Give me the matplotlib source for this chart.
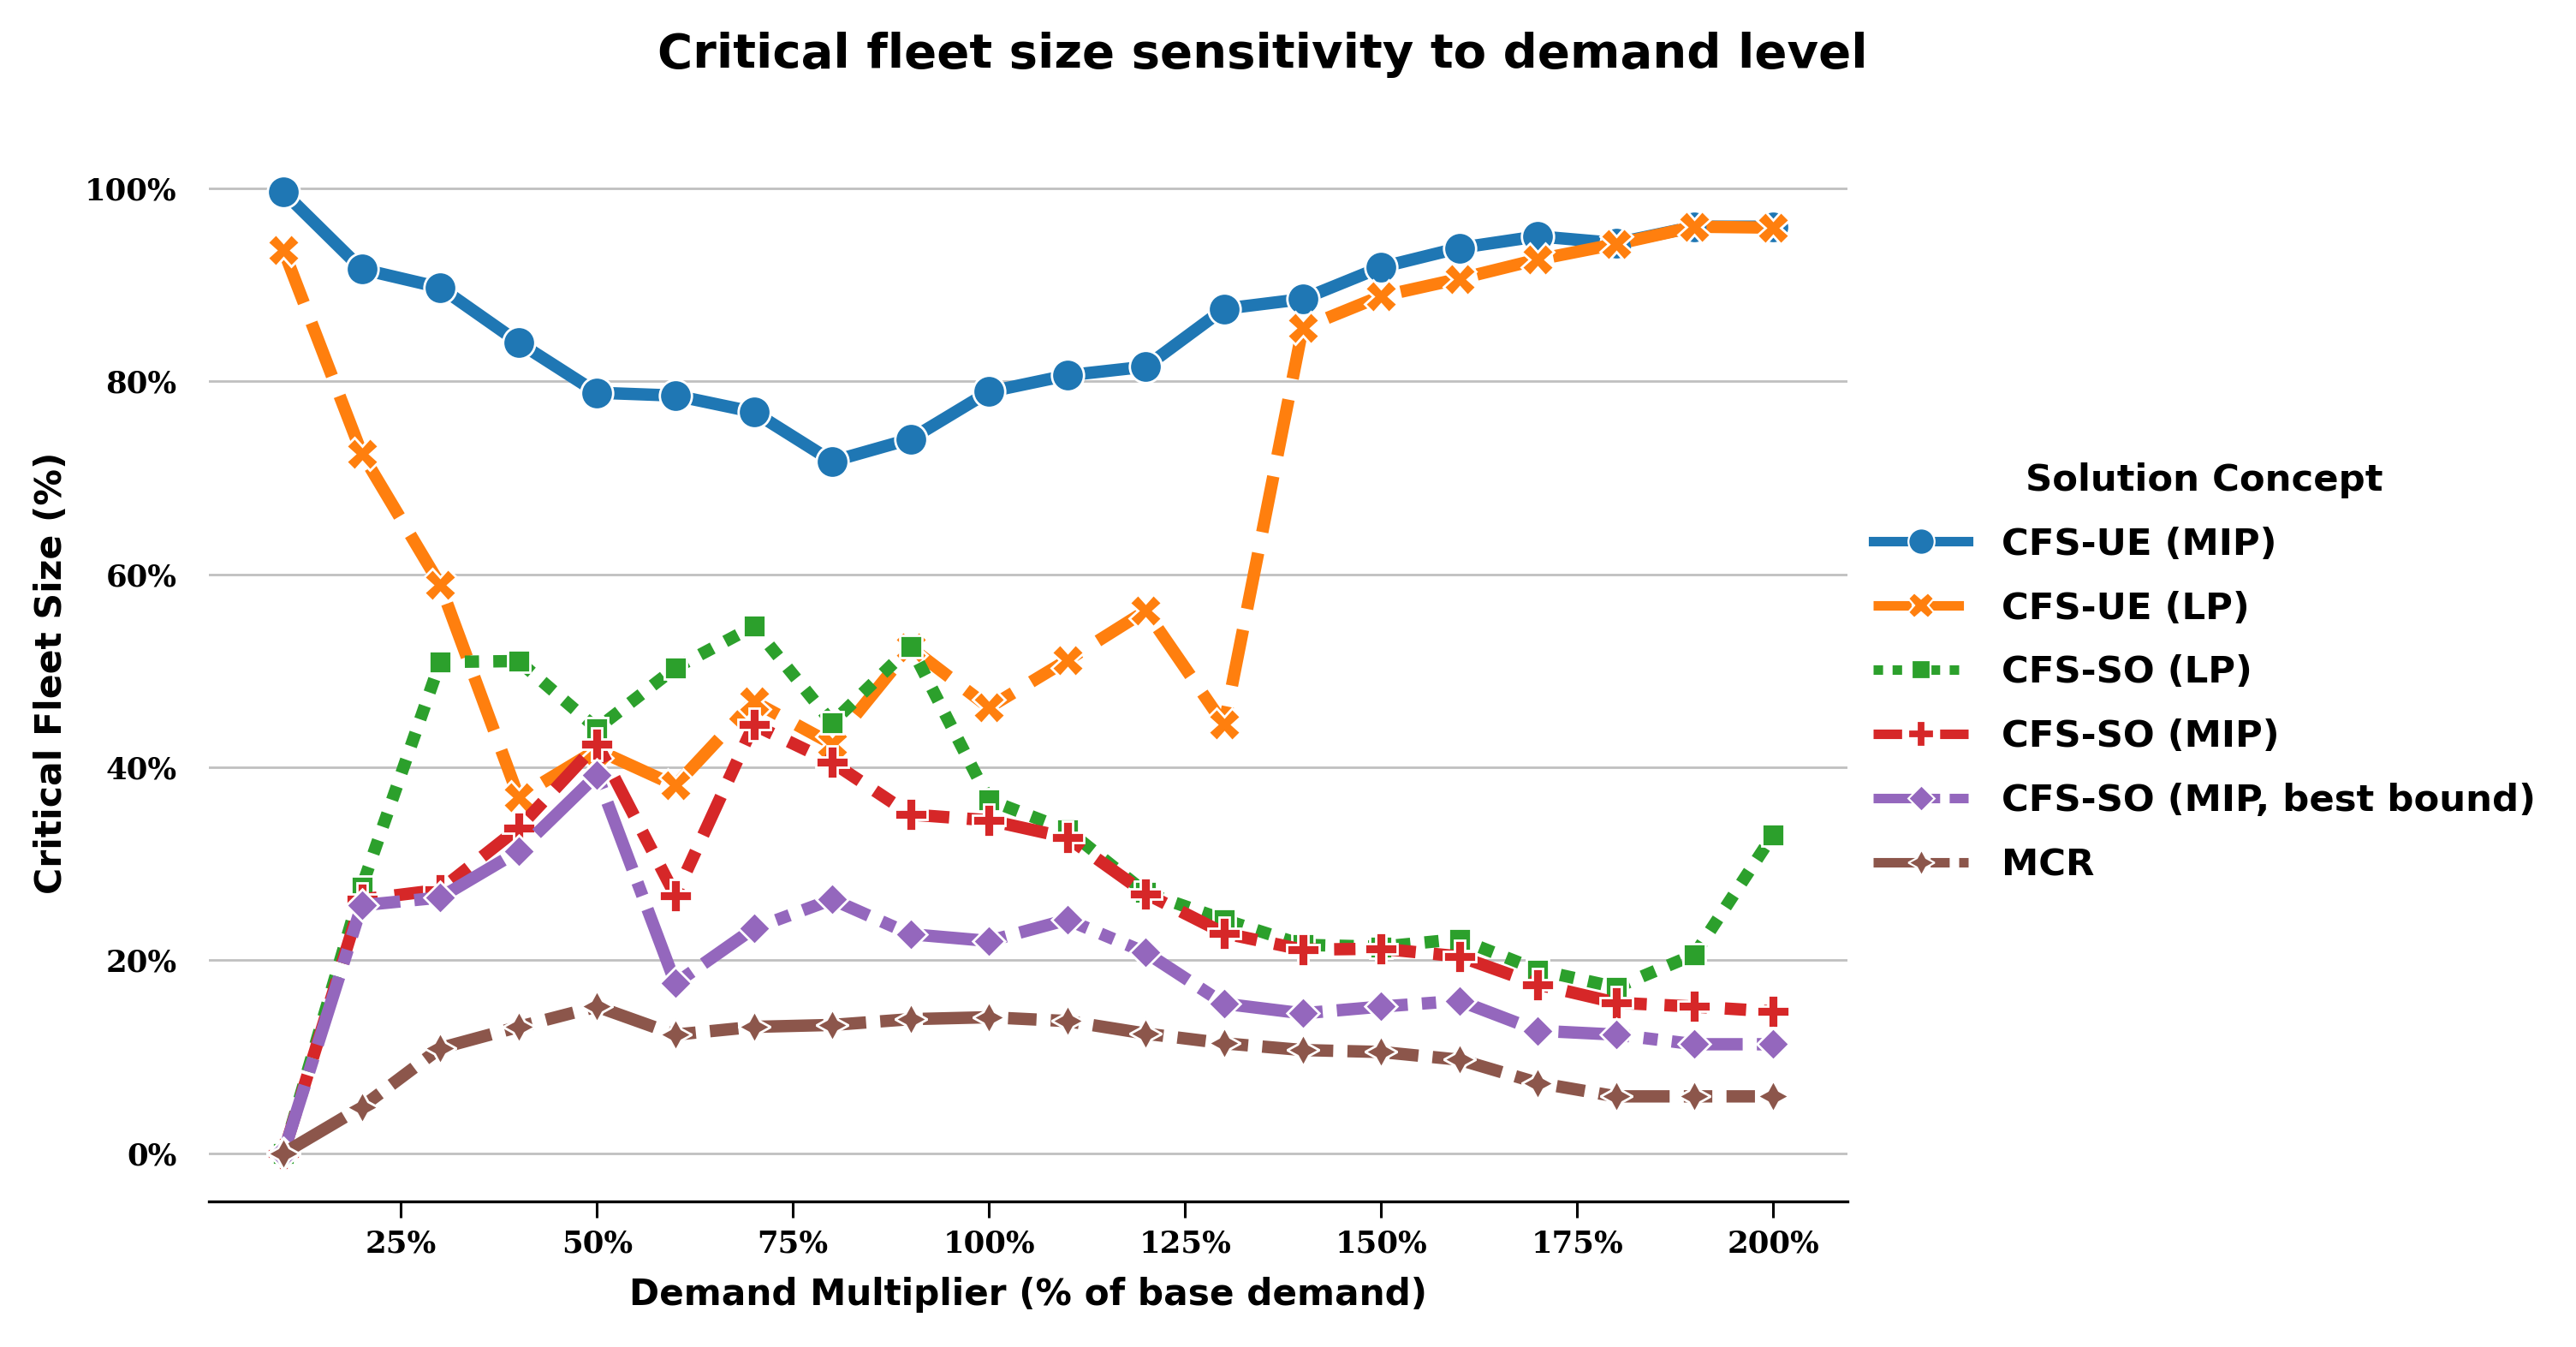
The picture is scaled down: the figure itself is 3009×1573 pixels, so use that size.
"""
Critical fleet size vs. demand multiplier, one line per solution concept.
"""

import matplotlib
matplotlib.use("Agg")
import matplotlib.pyplot as plt
from matplotlib.lines import Line2D
from matplotlib.ticker import FuncFormatter

# ── data ──
demand_mult = [10, 20, 30, 40, 50, 60, 70, 80, 90, 100,
               110, 120, 130, 140, 150, 160, 170, 180, 190, 200]

cfs_ue_mip = [99.6, 91.6, 89.7, 84.0, 78.8, 78.5, 76.8, 71.7, 74.0, 78.9,
              80.6, 81.5, 87.5, 88.5, 91.8, 93.8, 95.0, 94.3, 96.0, 96.0]
cfs_ue_lp = [93.6, 72.5, 58.9, 36.9, 41.8, 38.1, 46.8, 42.4, 52.4, 46.2,
             51.1, 56.2, 44.4, 85.5, 88.8, 90.6, 92.6, 94.2, 96.0, 95.9]
cfs_so_lp = [0.0, 27.6, 50.9, 51.0, 44.0, 50.3, 54.6, 44.6, 52.5, 36.6,
             33.5, 27.0, 24.2, 21.6, 21.4, 22.2, 19.0, 17.2, 20.6, 33.0]
cfs_so_mip = [0.0, 26.3, 27.3, 33.7, 42.4, 26.7, 44.4, 40.5, 35.1, 34.5,
              32.7, 26.9, 22.8, 21.1, 21.2, 20.4, 17.5, 15.6, 15.2, 14.7]
cfs_so_bound = [0.0, 25.7, 26.5, 31.3, 39.2, 17.6, 23.3, 26.3, 22.7, 22.0,
                24.2, 20.8, 15.5, 14.5, 15.2, 15.8, 12.7, 12.3, 11.3, 11.3]
mcr = [0.0, 4.8, 10.9, 13.1, 15.2, 12.3, 13.1, 13.3, 13.9, 14.1,
       13.7, 12.4, 11.4, 10.7, 10.5, 9.7, 7.3, 5.9, 5.9, 5.9]

series_names = ["CFS-UE (MIP)", "CFS-UE (LP)", "CFS-SO (LP)", "CFS-SO (MIP)",
                "CFS-SO (MIP, best bound)", "MCR"]
series_values = [cfs_ue_mip, cfs_ue_lp, cfs_so_lp, cfs_so_mip, cfs_so_bound, mcr]

x_ticks = [25, 50, 75, 100, 125, 150, 175, 200]
y_ticks = [0, 20, 40, 60, 80, 100]

# ── style (seaborn-like defaults) ──
COLORS = ["#1f77b4", "#ff7f0e", "#2ca02c", "#d62728", "#9467bd", "#8c564b"]
MARKERS = ["o", "X", (4, 0, 45), "P", (4, 0, 0), (4, 1, 0)]
DASHES = [None, (4, 1.5), (1, 1), (3, 1.25, 1.5, 1.25),
          (5, 1, 1, 1), (5, 1, 2, 1, 2, 1)]

LABEL_FONT = ["DejaVu Sans"]
TICK_FONT = ["DejaVu Serif"]
LW = 5.2
DASH_SCALE = 1.15

fig = plt.figure(figsize=(15.045, 7.865), dpi=200)
ax = fig.add_axes([0.0811, 0.1081, 0.6361, 0.7851])

for name, vals, color, marker, dash in zip(series_names, series_values,
                                           COLORS, MARKERS, DASHES):
    line, = ax.plot(demand_mult, vals, color=color, lw=LW, marker=marker,
                    markersize=13.5, markeredgecolor="white",
                    markeredgewidth=1.0, label=name)
    if dash is not None:
        line.set_dashes([d * DASH_SCALE for d in dash])

# axes cosmetics
for side in ("left", "top", "right"):
    ax.spines[side].set_visible(False)
ax.spines["bottom"].set_linewidth(1.2)
ax.spines["bottom"].set_color("black")

ax.yaxis.grid(True, color="#c0c0c0", lw=1.0)
ax.xaxis.grid(False)
ax.set_axisbelow(True)

ax.set_xticks(x_ticks)
ax.set_yticks(y_ticks)
pct = FuncFormatter(lambda v, _: f"{v:.0f}%")
ax.xaxis.set_major_formatter(pct)
ax.yaxis.set_major_formatter(pct)
ax.tick_params(axis="y", length=0, pad=13.5)
ax.tick_params(axis="x", length=7, width=1.1, pad=4.8, color="black")
for lab in ax.get_xticklabels() + ax.get_yticklabels():
    lab.set_fontfamily(TICK_FONT)
    lab.set_fontweight("bold")
    lab.set_fontsize(12.8)

ax.set_xlabel("Demand Multiplier (% of base demand)", family=LABEL_FONT,
              fontweight="bold", fontsize=15.2)
ax.set_ylabel("Critical Fleet Size (%)", family=LABEL_FONT,
              fontweight="bold", fontsize=15.3)
ax.xaxis.set_label_coords(0.5, -0.071)
ax.yaxis.set_label_coords(-0.085, 0.5)

fig.text(0.490, 0.9498, "Critical fleet size sensitivity to demand level",
         ha="center", va="baseline", family=LABEL_FONT, fontweight="bold",
         fontsize=20.2)

# legend with slightly smaller handles
handles = []
for name, color, marker, dash in zip(series_names, COLORS, MARKERS, DASHES):
    h = Line2D([], [], color=color, lw=4.0, marker=marker, markersize=11,
               markeredgecolor="white", markeredgewidth=0.8)
    if dash is not None:
        h.set_dashes(dash)
    handles.append(h)

leg = ax.legend(handles, series_names, title="Solution Concept",
                loc="center left", bbox_to_anchor=(1.0, 0.5),
                frameon=False, borderaxespad=0.3, handlelength=2.55,
                handletextpad=0.9, labelspacing=0.76,
                prop=dict(family=LABEL_FONT, weight="bold", size=15.6),
                title_fontproperties=dict(family=LABEL_FONT, weight="bold",
                                          size=15.6))

fig.savefig("out.png", dpi=200, facecolor="white")
plt.close(fig)
print("saved out.png")
